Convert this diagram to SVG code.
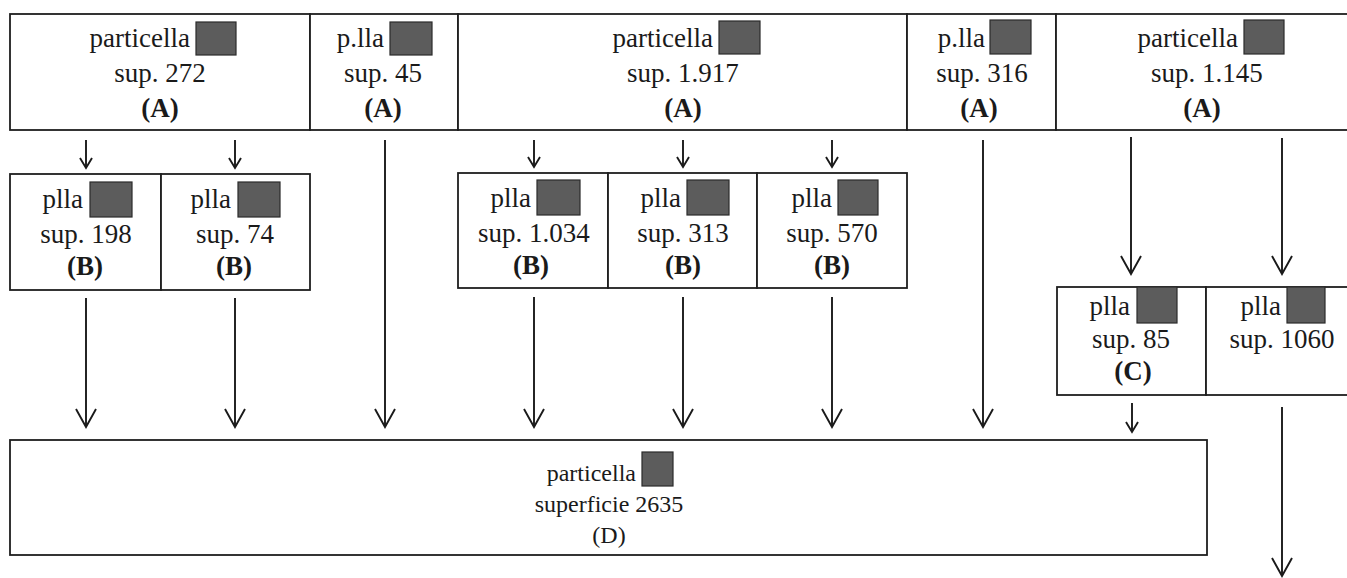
<svg xmlns="http://www.w3.org/2000/svg" width="1347" height="578" viewBox="0 0 1347 578">
<style>
.box{fill:#fff;stroke:#1e1e1e;stroke-width:1.8}
.sq{fill:#5c5c5c;stroke:#2a2a2a;stroke-width:1.2}
.t{font-family:"Liberation Serif","DejaVu Serif",serif;font-size:27px;fill:#1a1a1a}
.c{text-anchor:middle}
.e{text-anchor:end}
.b{font-weight:bold}
.d{font-size:24px}
.ln{stroke:#1a1a1a;stroke-width:1.9;fill:none}
.sm{marker-end:url(#hs)}
.lg{marker-end:url(#hl)}
</style>
<defs>
<marker id="hs" markerUnits="userSpaceOnUse" markerWidth="20" markerHeight="20" refX="0" refY="0" orient="auto" overflow="visible">
<path d="M-10,-6 L0,0 L-10,6" fill="none" stroke="#1a1a1a" stroke-width="1.9"/>
</marker>
<marker id="hl" markerUnits="userSpaceOnUse" markerWidth="30" markerHeight="30" refX="0" refY="0" orient="auto" overflow="visible">
<path d="M-18,-10 L0,0 L-18,10" fill="none" stroke="#1a1a1a" stroke-width="1.9"/>
</marker>
</defs>
<rect width="1347" height="578" fill="#fff"/>

<g id="A1">
<rect class="box" x="10" y="14" width="300" height="116"/>
<text class="t e" x="190" y="47">particella</text>
<rect class="sq" x="196" y="22" width="40" height="33"/>
<text class="t c" x="160" y="82">sup. 272</text>
<text class="t c b" x="160" y="117">(A)</text>
</g>
<g id="A2">
<rect class="box" x="310" y="14" width="148" height="116"/>
<text class="t e" x="384" y="47">p.lla</text>
<rect class="sq" x="390" y="22" width="42" height="33"/>
<text class="t c" x="383" y="82">sup. 45</text>
<text class="t c b" x="383" y="117">(A)</text>
</g>
<g id="A3">
<rect class="box" x="458" y="14" width="449" height="116"/>
<text class="t e" x="713" y="47">particella</text>
<rect class="sq" x="719" y="21" width="41" height="33"/>
<text class="t c" x="683" y="82">sup. 1.917</text>
<text class="t c b" x="683" y="117">(A)</text>
</g>
<g id="A4">
<rect class="box" x="907" y="14" width="149" height="116"/>
<text class="t e" x="985" y="47">p.lla</text>
<rect class="sq" x="990" y="20" width="41" height="34"/>
<text class="t c" x="982" y="82">sup. 316</text>
<text class="t c b" x="979" y="117">(A)</text>
</g>
<g id="A5">
<rect class="box" x="1056" y="14" width="300" height="116"/>
<text class="t e" x="1238" y="47">particella</text>
<rect class="sq" x="1244" y="20" width="40" height="34"/>
<text class="t c" x="1207" y="82">sup. 1.145</text>
<text class="t c b" x="1202" y="117">(A)</text>
</g>

<g id="B1">
<rect class="box" x="10" y="174" width="151" height="116"/>
<text class="t e" x="83" y="208">plla</text>
<rect class="sq" x="90" y="182" width="42" height="35"/>
<text class="t c" x="86" y="243">sup. 198</text>
<text class="t c b" x="85" y="275">(B)</text>
</g>
<g id="B2">
<rect class="box" x="161" y="174" width="149" height="116"/>
<text class="t e" x="231" y="208">plla</text>
<rect class="sq" x="238" y="182" width="42" height="35"/>
<text class="t c" x="235" y="243">sup. 74</text>
<text class="t c b" x="234" y="275">(B)</text>
</g>
<g id="B3">
<rect class="box" x="458" y="173" width="150" height="115"/>
<text class="t e" x="531" y="207">plla</text>
<rect class="sq" x="537" y="180" width="43" height="35"/>
<text class="t c" x="534" y="242">sup. 1.034</text>
<text class="t c b" x="531" y="274">(B)</text>
</g>
<g id="B4">
<rect class="box" x="608" y="173" width="149" height="115"/>
<text class="t e" x="681" y="207">plla</text>
<rect class="sq" x="687" y="180" width="42" height="35"/>
<text class="t c" x="683" y="242">sup. 313</text>
<text class="t c b" x="683" y="274">(B)</text>
</g>
<g id="B5">
<rect class="box" x="757" y="173" width="150" height="115"/>
<text class="t e" x="832" y="207">plla</text>
<rect class="sq" x="838" y="180" width="40" height="35"/>
<text class="t c" x="832" y="242">sup. 570</text>
<text class="t c b" x="832" y="274">(B)</text>
</g>

<g id="C1">
<rect class="box" x="1057" y="287" width="149" height="108"/>
<text class="t e" x="1130" y="315">plla</text>
<rect class="sq" x="1137" y="287" width="40" height="36"/>
<text class="t c" x="1131" y="348">sup. 85</text>
<text class="t c b" x="1133" y="380">(C)</text>
</g>
<g id="C2">
<rect class="box" x="1206" y="287" width="150" height="108"/>
<text class="t e" x="1281" y="315">plla</text>
<rect class="sq" x="1287" y="287" width="38" height="36"/>
<text class="t c" x="1282" y="348">sup. 1060</text>
</g>

<g id="D">
<rect class="box" x="10" y="440" width="1197" height="115"/>
<text class="t d e" x="636" y="481">particella</text>
<rect class="sq" x="642" y="452" width="31" height="34"/>
<text class="t d c" x="609" y="512">superficie 2635</text>
<text class="t d c" x="609" y="543">(D)</text>
</g>

<g id="connectors">
<line class="ln sm" x1="86" y1="140" x2="86" y2="168"/>
<line class="ln sm" x1="235" y1="140" x2="235" y2="168"/>
<line class="ln sm" x1="534" y1="140" x2="534" y2="167"/>
<line class="ln sm" x1="683" y1="140" x2="683" y2="167"/>
<line class="ln sm" x1="832" y1="140" x2="832" y2="167"/>
<line class="ln lg" x1="385" y1="140" x2="385" y2="427"/>
<line class="ln lg" x1="983" y1="140" x2="983" y2="427"/>
<line class="ln lg" x1="1131" y1="137" x2="1131" y2="274"/>
<line class="ln lg" x1="1282" y1="138" x2="1282" y2="274"/>
<line class="ln lg" x1="86" y1="298" x2="86" y2="427"/>
<line class="ln lg" x1="235" y1="298" x2="235" y2="427"/>
<line class="ln lg" x1="534" y1="297" x2="534" y2="427"/>
<line class="ln lg" x1="683" y1="297" x2="683" y2="427"/>
<line class="ln lg" x1="832" y1="297" x2="832" y2="427"/>
<line class="ln sm" x1="1132" y1="403" x2="1132" y2="432"/>
<line class="ln lg" x1="1282" y1="407" x2="1282" y2="576"/>
</g>
</svg>
